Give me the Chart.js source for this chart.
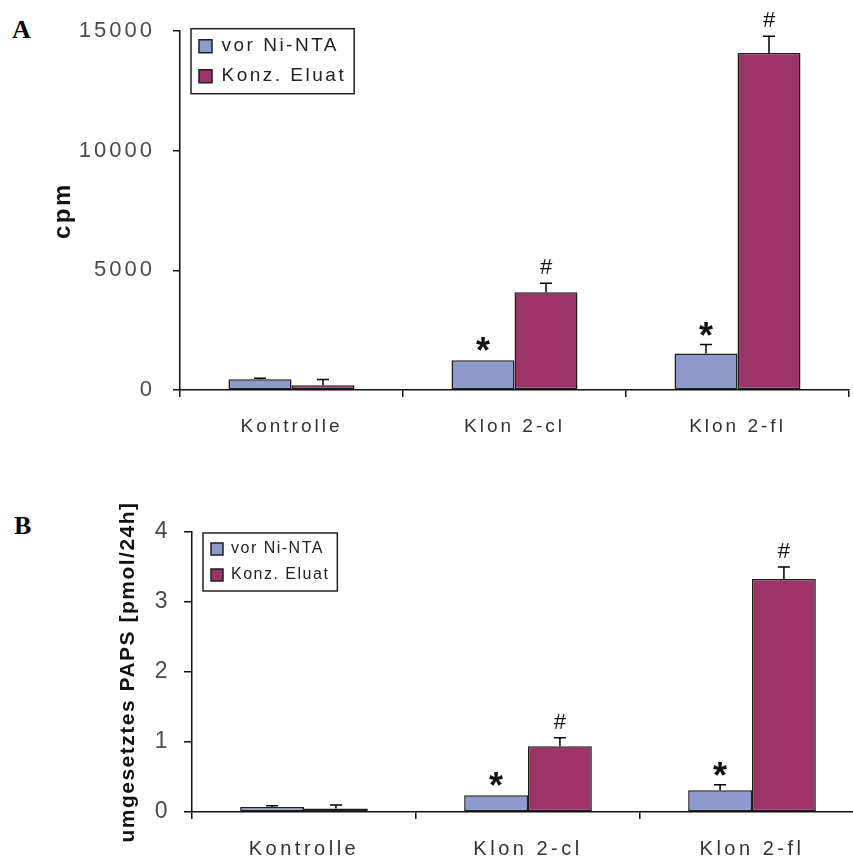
<!DOCTYPE html>
<html lang="de">
<head>
<meta charset="utf-8">
<title>Klon 2 – cpm und umgesetztes PAPS</title>
<script src="https://cdn.jsdelivr.net/npm/chart.js@4.4.1/dist/chart.umd.min.js"></script>
<style>
  html, body { margin: 0; padding: 0; width: 853px; height: 861px; overflow: hidden; background: #fff; }
  canvas { position: absolute; left: 0; }
  .tag { position: absolute; font: bold 26px "Liberation Serif", "Times New Roman", serif; line-height: 26px; color: #000; }
</style>
</head>
<body>
<div class="tag" style="left:12px; top:17px">A</div>
<canvas id="chart-cpm" style="top:0" width="853" height="440"></canvas>
<div class="tag" style="left:14px; top:513px">B</div>
<canvas id="chart-paps" style="top:495px" width="868" height="366"></canvas>
<script>
const categories = ["Kontrolle", "Klon 2-cl", "Klon 2-fl"];
const seriesNames = ["vor Ni-NTA", "Konz. Eluat"];

// A: cpm
const cpmVor = [450, 1240, 1530];
const cpmVorErr = [40, 0, 370];
const cpmEluat = [200, 4090, 14090];
const cpmEluatErr = [240, 370, 700];
const cpmTicks = [0, 5000, 10000, 15000];

// B: umgesetztes PAPS [pmol/24h]
const papsVor = [0.07, 0.24, 0.31];
const papsVorErr = [0.02, 0, 0.08];
const papsEluat = [0.05, 0.94, 3.33];
const papsEluatErr = [0.05, 0.12, 0.17];
const papsTicks = [0, 1, 2, 3, 4];

// significance marks over each bar
const marksVor = ["", "*", "*"];
const marksEluat = ["", "#", "#"];

const BLUE = "#8e9acb";
const PLUM = "#9c3467";
const EDGE = "#1e1e1e";
const AXIS = "#111";

Chart.defaults.font.family = '"Liberation Sans", Arial, sans-serif';

// error bars (upper half only), * / # marks, letter spacing and the framed legend
const errorBars = {
    id: "errorBars",
    beforeLayout(chart, args, opts) {
        chart.ctx.letterSpacing = opts.spacing + "px";
    },
    afterLayout(chart, args, opts) {
        const lg = chart.legend;
        const ca = chart.chartArea;
        lg.left = ca.left + opts.legendOffset[0];
        lg.top = ca.top + opts.legendOffset[1];
        lg.right = lg.left + lg.width;
        lg.bottom = lg.top + lg.height;
    },
    beforeDraw(chart, args, opts) {
        chart.ctx.letterSpacing = opts.spacing + "px";
    },
    afterDatasetsDraw(chart, args, opts) {
        const ctx = chart.ctx;
        const y = chart.scales.y;
        ctx.save();
        ctx.letterSpacing = "0px";
        ctx.strokeStyle = "#000";
        ctx.fillStyle = "#111";
        ctx.lineWidth = 1.5;
        ctx.textAlign = "center";
        ctx.textBaseline = "alphabetic";
        chart.data.datasets.forEach((ds, i) => {
            chart.getDatasetMeta(i).data.forEach((bar, j) => {
                const err = ds.errors[j];
                const yTop = y.getPixelForValue(ds.data[j] + err);
                if (err > 0) {
                    ctx.beginPath();
                    ctx.moveTo(bar.x, bar.y);
                    ctx.lineTo(bar.x, yTop);
                    ctx.moveTo(bar.x - opts.cap, yTop);
                    ctx.lineTo(bar.x + opts.cap, yTop);
                    ctx.stroke();
                }
                const mark = ds.marks[j];
                if (mark === "*") {
                    ctx.font = 'bold 36px "Liberation Sans", Arial, sans-serif';
                    ctx.fillText(mark, bar.x, yTop - opts.markGap + 20);
                } else if (mark) {
                    ctx.font = '22px "Liberation Sans", Arial, sans-serif';
                    ctx.fillText(mark, bar.x, yTop - opts.markGap + 8);
                }
            });
        });
        ctx.restore();
        ctx.letterSpacing = opts.labelSpacing + "px";
    },
    afterDraw(chart, args, opts) {
        const boxes = chart.legend.legendHitBoxes;
        if (!boxes || !boxes.length) return;
        const last = boxes[boxes.length - 1];
        const l = Math.min(...boxes.map(b => b.left)) - opts.pad;
        const r = Math.max(...boxes.map(b => b.left + b.width)) + opts.pad;
        const t = boxes[0].top - opts.pad;
        const b = last.top + last.height + opts.pad;
        const ctx = chart.ctx;
        ctx.save();
        ctx.strokeStyle = "#222";
        ctx.lineWidth = 1.5;
        ctx.strokeRect(l, t, r - l, b - t);
        ctx.restore();
    }
};

function barSet(label, data, errors, marks, color, pct) {
    return {
        label: label,
        data: data,
        errors: errors,
        marks: marks,
        backgroundColor: color,
        borderColor: EDGE,
        borderWidth: 1.5,
        borderSkipped: false,
        categoryPercentage: pct,
        barPercentage: 1
    };
}

function makeChart(id, cfg) {
    return new Chart(document.getElementById(id), {
        type: "bar",
        data: {
            labels: categories,
            datasets: [
                barSet(seriesNames[0], cfg.vor, cfg.vorErr, marksVor, BLUE, cfg.pct),
                barSet(seriesNames[1], cfg.eluat, cfg.eluatErr, marksEluat, PLUM, cfg.pct)
            ]
        },
        options: {
            responsive: false,
            animation: false,
            events: [],
            layout: { padding: { top: cfg.top, right: 4, left: 0, bottom: 0 } },
            plugins: {
                tooltip: { enabled: false },
                legend: {
                    position: "chartArea",
                    align: "start",
                    labels: {
                        color: "#222",
                        boxWidth: cfg.legendBox,
                        boxHeight: cfg.legendBox,
                        padding: cfg.legendGap,
                        font: { size: cfg.legendFont }
                    }
                },
                errorBars: {
                    spacing: cfg.spacing,
                    labelSpacing: cfg.labelSpacing,
                    legendOffset: cfg.legendOffset,
                    pad: 8,
                    cap: 6,
                    markGap: 17
                }
            },
            scales: {
                x: {
                    grid: { offset: true, drawOnChartArea: false, tickLength: 7, color: AXIS, lineWidth: 1.5 },
                    border: { color: AXIS, width: 1.5 },
                    ticks: { z: 1, padding: 18, maxRotation: 0, color: "#333", font: { size: cfg.catFont } },
                    afterFit: s => { s.height = cfg.xHeight; }
                },
                y: {
                    min: cfg.ticks[0],
                    max: cfg.ticks[cfg.ticks.length - 1],
                    afterBuildTicks: s => { s.ticks = cfg.ticks.map(v => ({ value: v })); },
                    grid: { drawOnChartArea: false, tickLength: cfg.yTick, color: AXIS, lineWidth: 1.5 },
                    border: { color: AXIS, width: 1.5 },
                    ticks: { z: 1, padding: cfg.yPad, color: "#4a4a4a", font: { size: cfg.tickFont }, callback: v => String(v) },
                    title: {
                        display: true,
                        text: cfg.title,
                        color: "#111",
                        font: { size: cfg.titleFont, weight: "bold" },
                        padding: { top: cfg.titlePad, bottom: 0 }
                    },
                    afterFit: s => { s.width = cfg.yWidth; }
                }
            }
        },
        plugins: [errorBars]
    });
}

makeChart("chart-cpm", {
    vor: cpmVor, vorErr: cpmVorErr, eluat: cpmEluat, eluatErr: cpmEluatErr,
    ticks: cpmTicks, title: "cpm", pct: 0.565,
    top: 27, xHeight: 50, yWidth: 180, yTick: 7, yPad: 18,
    tickFont: 22, catFont: 19, titleFont: 24, titlePad: 49,
    spacing: 2.5, labelSpacing: 3,
    legendBox: 13, legendGap: 11, legendFont: 19, legendOffset: [8, -5.5]
});

makeChart("chart-paps", {
    vor: papsVor, vorErr: papsVorErr, eluat: papsEluat, eluatErr: papsEluatErr,
    ticks: papsTicks, title: "umgesetztes PAPS [pmol/24h]", pct: 0.57,
    top: 37, xHeight: 49, yWidth: 192, yTick: 8, yPad: 13,
    tickFont: 23, catFont: 20, titleFont: 21, titlePad: 116,
    spacing: 1.5, labelSpacing: 3.5,
    legendBox: 12, legendGap: 10, legendFont: 16, legendOffset: [9, -1]
});
</script>
</body>
</html>
